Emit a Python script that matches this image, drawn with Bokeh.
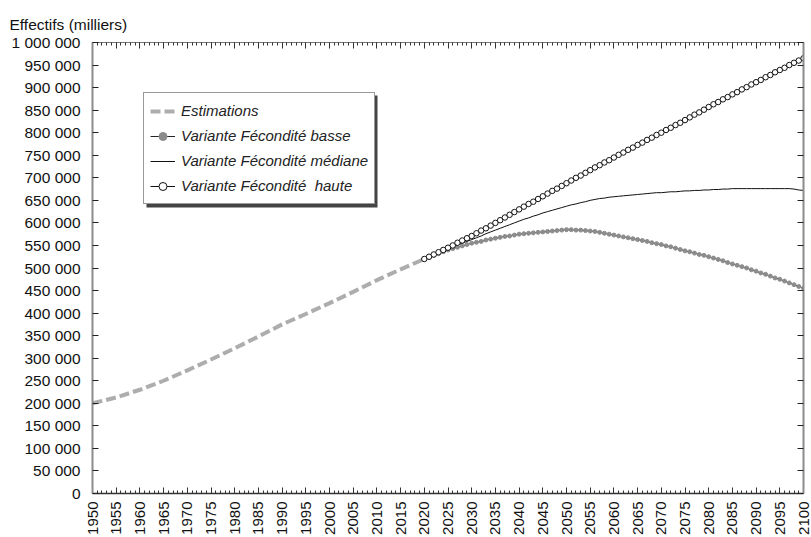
import math
from bokeh.plotting import figure
from bokeh.models import (LinearAxis, SingleIntervalTicker, CustomJSTickFormatter,
                          Range1d, Legend, BoxAnnotation)
from bokeh.embed import file_html
from bokeh.resources import INLINE

# ---- data (thousands) ----
est_years = [1950, 1955, 1960, 1965, 1970, 1975, 1980, 1985, 1990, 1995,
             2000, 2005, 2010, 2015, 2020]
est_values = [200000, 213000, 230000, 250000, 273000, 297000, 322000, 348000,
              375000, 398000, 422000, 447000, 473000, 497000, 520000]

proj_years = list(range(2020, 2101))

low_values = [520000, 524000, 528000, 532000, 536000, 540000, 543000, 546000, 549000, 552000,
              555000, 557000, 559000, 562000, 564000, 566000, 568000, 570000, 571000, 573000,
              575000, 576000, 577000, 578000, 579000, 580000, 581000, 582000, 583000, 584000,
              585000, 585000, 584000, 584000, 583000, 582000, 581000, 579000, 577000, 575000,
              573000, 571000, 569000, 567000, 565000, 563000, 561000, 559000, 556000, 554000,
              552000, 549000, 547000, 544000, 541000, 538000, 536000, 533000, 530000, 528000,
              525000, 522000, 519000, 516000, 512000, 509000, 506000, 503000, 500000, 496000,
              493000, 489000, 486000, 482000, 478000, 475000, 471000, 467000, 463000, 459000,
              455000]

med_values = [520000, 525000, 529000, 534000, 538000, 543000, 547000, 551000, 555000, 559000,
              563000, 567000, 571000, 576000, 580000, 584000, 588000, 592000, 596000, 600000,
              604000, 608000, 611000, 615000, 618000, 622000, 625000, 628000, 631000, 634000,
              637000, 640000, 642000, 645000, 647000, 650000, 652000, 654000, 655000, 657000,
              658000, 659000, 660000, 661000, 662000, 663000, 664000, 665000, 666000, 667000,
              667000, 668000, 669000, 669000, 670000, 671000, 671000, 672000, 672000, 673000,
              673000, 674000, 674000, 675000, 675000, 676000, 676000, 676000, 676000, 676000,
              676000, 676000, 676000, 676000, 676000, 676000, 676000, 676000, 675000, 673000,
              672000]

high_values = [520000, 525000, 530000, 535000, 540000, 545000, 550000, 556000, 561000, 566000,
               571000, 577000, 583000, 588000, 594000, 600000, 606000, 612000, 618000, 624000,
               630000, 636000, 642000, 647000, 653000, 659000, 665000, 671000, 676000, 682000,
               688000, 694000, 700000, 705000, 711000, 717000, 723000, 728000, 734000, 739000,
               745000, 751000, 756000, 762000, 767000, 773000, 778000, 784000, 789000, 795000,
               800000, 806000, 811000, 817000, 822000, 828000, 834000, 840000, 845000, 851000,
               857000, 863000, 868000, 874000, 879000, 885000, 890000, 896000, 901000, 907000,
               912000, 917000, 923000, 928000, 934000, 939000, 944000, 950000, 955000, 960000,
               965000]

labels = ["Estimations", "Variante Fécondité basse", "Variante Fécondité médiane",
          "Variante Fécondité  haute"]
y_title = "Effectifs (milliers)"

FONT = "Liberation Sans"
FS = "15.5px"

FRAME_H = 452
p = figure(width=811, height=537, output_backend="svg", toolbar_location=None,
           x_range=Range1d(1950, 2100), y_range=Range1d(0, 1000000),
           x_axis_location=None, y_axis_location=None,
           min_border_left=92, min_border_right=8, min_border_top=42, min_border_bottom=43)
p.outline_line_color = None
p.xgrid.visible = False
p.ygrid.visible = False
p.background_fill_color = "white"

p.title.text = y_title
p.title.align = "left"
p.title.offset = -83
p.title.text_font = FONT
p.title.text_font_size = FS
p.title.text_font_style = "normal"
p.title.text_color = "#111111"
p.title.standoff = 19

fmt = CustomJSTickFormatter(code="""
return Math.round(tick).toString().replace(/\\B(?=(\\d{3})+(?!\\d))/g, ' ');
""")
blank = CustomJSTickFormatter(code="return '';")

# left axis
yl = LinearAxis(ticker=SingleIntervalTicker(interval=50000, num_minor_ticks=0), formatter=fmt)
yl.axis_line_color = "#8c8c8c"
yl.axis_line_width = 2
yl.major_tick_in = 6
yl.major_tick_out = 0
yl.major_tick_line_color = "#222222"
yl.minor_tick_line_color = None
yl.major_label_text_font = FONT
yl.major_label_text_font_size = FS
yl.major_label_text_color = "#111111"
yl.major_label_standoff = 12
p.add_layout(yl, "left")

# right axis (no labels)
yr = LinearAxis(ticker=SingleIntervalTicker(interval=50000, num_minor_ticks=0), formatter=blank)
yr.axis_line_color = "#8c8c8c"
yr.axis_line_width = 2
yr.major_tick_in = 6
yr.major_tick_out = 0
yr.major_tick_line_color = "#222222"
yr.minor_tick_line_color = None
yr.major_label_text_font_size = "1px"
yr.major_label_text_color = None
yr.major_label_standoff = 0
p.add_layout(yr, "right")

# bottom axis
xb = LinearAxis(ticker=SingleIntervalTicker(interval=5, num_minor_ticks=5))
xb.axis_line_color = "#333333"
xb.axis_line_width = 1.5
xb.major_tick_in = 6
xb.major_tick_out = 0
xb.minor_tick_in = 3
xb.minor_tick_out = 0
xb.major_tick_line_color = "#333333"
xb.minor_tick_line_color = "#333333"
xb.major_label_orientation = math.pi / 2
xb.major_label_text_font = FONT
xb.major_label_text_font_size = "15px"
xb.major_label_text_color = "#111111"
xb.major_label_standoff = 8
p.add_layout(xb, "below")

# top axis (no labels)
xt = LinearAxis(ticker=SingleIntervalTicker(interval=5, num_minor_ticks=5), formatter=blank)
xt.axis_line_color = "#777777"
xt.axis_line_width = 1
xt.major_tick_in = 6
xt.major_tick_out = 0
xt.minor_tick_in = 3
xt.minor_tick_out = 0
xt.major_tick_line_color = "#333333"
xt.minor_tick_line_color = "#333333"
xt.major_label_text_font_size = "1px"
xt.major_label_text_color = None
xt.major_label_standoff = 0
p.add_layout(xt, "above")

# series
r_est = p.line(est_years, est_values, line_color="#adadad", line_width=4, line_dash="10 4")

r_low_l = p.line(proj_years, low_values, line_color="#222222", line_width=1)
r_low_m = p.scatter(proj_years, low_values, marker="circle", size=4,
                    fill_color="#8c8c8c", line_color="#8c8c8c")

r_med = p.line(proj_years, med_values, line_color="#111111", line_width=1)

r_high_l = p.line(proj_years, high_values, line_color="#111111", line_width=1)
r_high_m = p.scatter(proj_years, high_values, marker="circle", size=5.5,
                     fill_color="white", line_color="#111111", line_width=1)

# legend geometry (screen px relative to the plot frame)
LEG_X, LEG_TOP, LEG_W, LEG_H = 51, 51, 231, 112
shadow = BoxAnnotation(left=LEG_X + 3, right=LEG_X + LEG_W + 3,
                       top=FRAME_H - LEG_TOP - 3, bottom=FRAME_H - LEG_TOP - LEG_H - 3,
                       left_units="screen", right_units="screen",
                       top_units="screen", bottom_units="screen",
                       fill_color="#444444", fill_alpha=1, line_color=None, level="underlay")
p.add_layout(shadow)

legend = Legend(items=[(labels[0], [r_est]), (labels[1], [r_low_l, r_low_m]),
                       (labels[2], [r_med]), (labels[3], [r_high_l, r_high_m])],
                location=(LEG_X, FRAME_H - LEG_TOP - LEG_H))
legend.label_text_font = FONT
legend.label_text_font_style = "italic"
legend.label_text_font_size = "15px"
legend.label_text_color = "#222222"
legend.glyph_width = 25
legend.glyph_height = 20
legend.label_height = 23
legend.label_standoff = 6
legend.spacing = 2
legend.padding = 6
legend.margin = 0
legend.border_line_color = "#333333"
legend.border_line_width = 1
legend.background_fill_alpha = 1
p.add_layout(legend, "center")

open("out.html", "w").write(file_html(p, INLINE))
